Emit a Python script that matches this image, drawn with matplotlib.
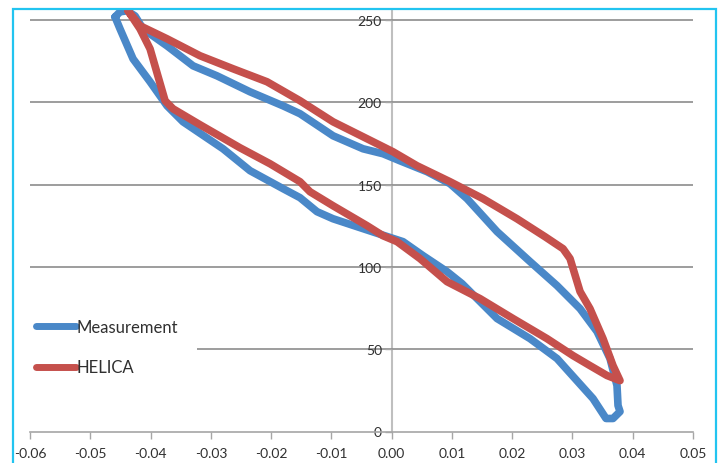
import matplotlib
matplotlib.use("Agg")
import matplotlib.pyplot as plt
from matplotlib.patches import Rectangle
import numpy as np

plt.rcParams['font.family'] = ['Lato', 'DejaVu Sans']

# Measurement loop (x, load)
meas_x = [-0.04589, -0.04506, -0.04390, -0.04257, -0.04124, -0.03726, -0.03295, -0.02897,
          -0.02349, -0.01802, -0.01520, -0.00972, -0.00474, -0.00143, 0.00139, 0.00587,
          0.00969, 0.01251, 0.01749, 0.02296, 0.02744, 0.03126, 0.03408, 0.03623,
          0.03739, 0.03756, 0.03789, 0.03673, 0.03557,
          0.03341, 0.02744, 0.02296, 0.01749, 0.01168, 0.00919, 0.00521, 0.00189,
          -0.00275, -0.00972, -0.01238, -0.01520, -0.01802, -0.02349, -0.02797,
          -0.03461, -0.03726, -0.04008, -0.04290, -0.04506, -0.04589]
meas_y = [251.8, 254.9, 255.5, 252.4, 244.5, 234.2, 222.1, 216.0,
          206.3, 197.8, 193.0, 179.6, 171.7, 168.7, 164.4, 157.8,
          150.5, 141.4, 121.4, 103.2, 88.6, 74.6, 60.7, 44.3,
          27.9, 15.8, 12.1, 7.9, 7.9,
          20.0, 44.3, 56.4, 68.6, 89.8, 97.1, 106.8, 115.3,
          120.8, 129.2, 133.5, 142.0, 147.5, 158.4, 171.7,
          188.1, 197.8, 212.4, 226.3, 244.5, 251.8]

# HELICA loop (x, load)
helica_x = [-0.04373, -0.04174, -0.03726, -0.03179, -0.02631, -0.02067, -0.01520, -0.00972,
            -0.00408, 0.00023, 0.00421, 0.00969, 0.01516, 0.02080, 0.02545, 0.02844,
            0.02960, 0.03126, 0.03291, 0.03507, 0.03673, 0.03789,
            0.03573, 0.03291, 0.03009, 0.02578, 0.02014, 0.01467, 0.00919, 0.00471,
            0.00090, -0.00143, -0.00408, -0.00972, -0.01354, -0.01520, -0.02017,
            -0.02515, -0.03179, -0.03627, -0.03759, -0.04008, -0.04174, -0.04373]
helica_y = [255.5, 246.4, 238.5, 228.2, 220.3, 212.4, 200.9, 188.1,
            177.8, 169.9, 161.4, 151.7, 141.4, 129.2, 118.3, 111.0,
            105.0, 85.0, 74.6, 56.4, 40.0, 30.9,
            34.0, 40.0, 46.1, 56.4, 68.6, 80.7, 91.0, 105.0,
            115.3, 118.9, 125.0, 137.1, 145.6, 151.7, 162.6,
            172.3, 186.3, 196.0, 200.9, 232.4, 244.5, 255.5]

x_ticks = [-0.06, -0.05, -0.04, -0.03, -0.02, -0.01, 0.00, 0.01, 0.02, 0.03, 0.04, 0.05]
y_ticks = [0, 50, 100, 150, 200, 250]

W, H = 727, 464
fig = plt.figure(figsize=(W / 100, H / 100), dpi=100)
ax = fig.add_axes([30 / W, (H - 432.5) / H, (693 - 30) / W, (432.5 - 11) / H])

blue = '#4A88C8'
red = '#C5504C'
ax.plot(meas_x, meas_y, color=blue, lw=5.5, solid_joinstyle='round', solid_capstyle='round',
        label='Measurement', zorder=3)
ax.plot(helica_x, helica_y, color=red, lw=5.5, solid_joinstyle='round', solid_capstyle='round',
        label='HELICA', zorder=4)

ax.set_xlim(-0.06, 0.05)
ax.set_ylim(0, 256)
ax.set_xticks(x_ticks)
ax.set_xticklabels([f"{v:.2f}" for v in x_ticks])
ax.set_yticks(y_ticks)

for v in y_ticks[1:]:
    ax.axhline(v, color='#8C8C8C', lw=1.2, zorder=1)

ax.spines['top'].set_visible(False)
ax.spines['right'].set_visible(False)
ax.spines['left'].set_position(('data', 0))
ax.spines['left'].set_color('#BFBFBF')
ax.spines['left'].set_linewidth(1.5)
ax.spines['bottom'].set_color('#A6A6A6')
ax.spines['bottom'].set_linewidth(1.2)
ax.spines['left'].set_zorder(0.5)

ax.tick_params(axis='x', direction='out', length=5, width=1, color='#A6A6A6',
               labelsize=10, labelcolor='#303030', pad=6)
ax.tick_params(axis='y', direction='out', length=5, width=1, color='#A6A6A6',
               labelsize=10, labelcolor='#303030', pad=2)

leg = ax.legend(loc='upper left', bbox_to_anchor=(27 / W, 1 - 403 / H, (197 - 27) / W, 92 / H),
                bbox_transform=fig.transFigure, mode='expand',
                frameon=True, facecolor='white', edgecolor='none', framealpha=1,
                fontsize=12, handlelength=2.4, handletextpad=0.05, labelspacing=1.45,
                borderaxespad=0, borderpad=0.55)
for t in leg.get_texts():
    t.set_color('#303030')
for l in leg.get_lines():
    l.set_linewidth(5)

fig.patches.append(Rectangle((13 / W, -0.05), (716 - 13) / W, 1.05 - 10 / H,
                             transform=fig.transFigure, fill=False,
                             edgecolor='#22C4F0', lw=1.6))

fig.savefig('out.png', dpi=100)
